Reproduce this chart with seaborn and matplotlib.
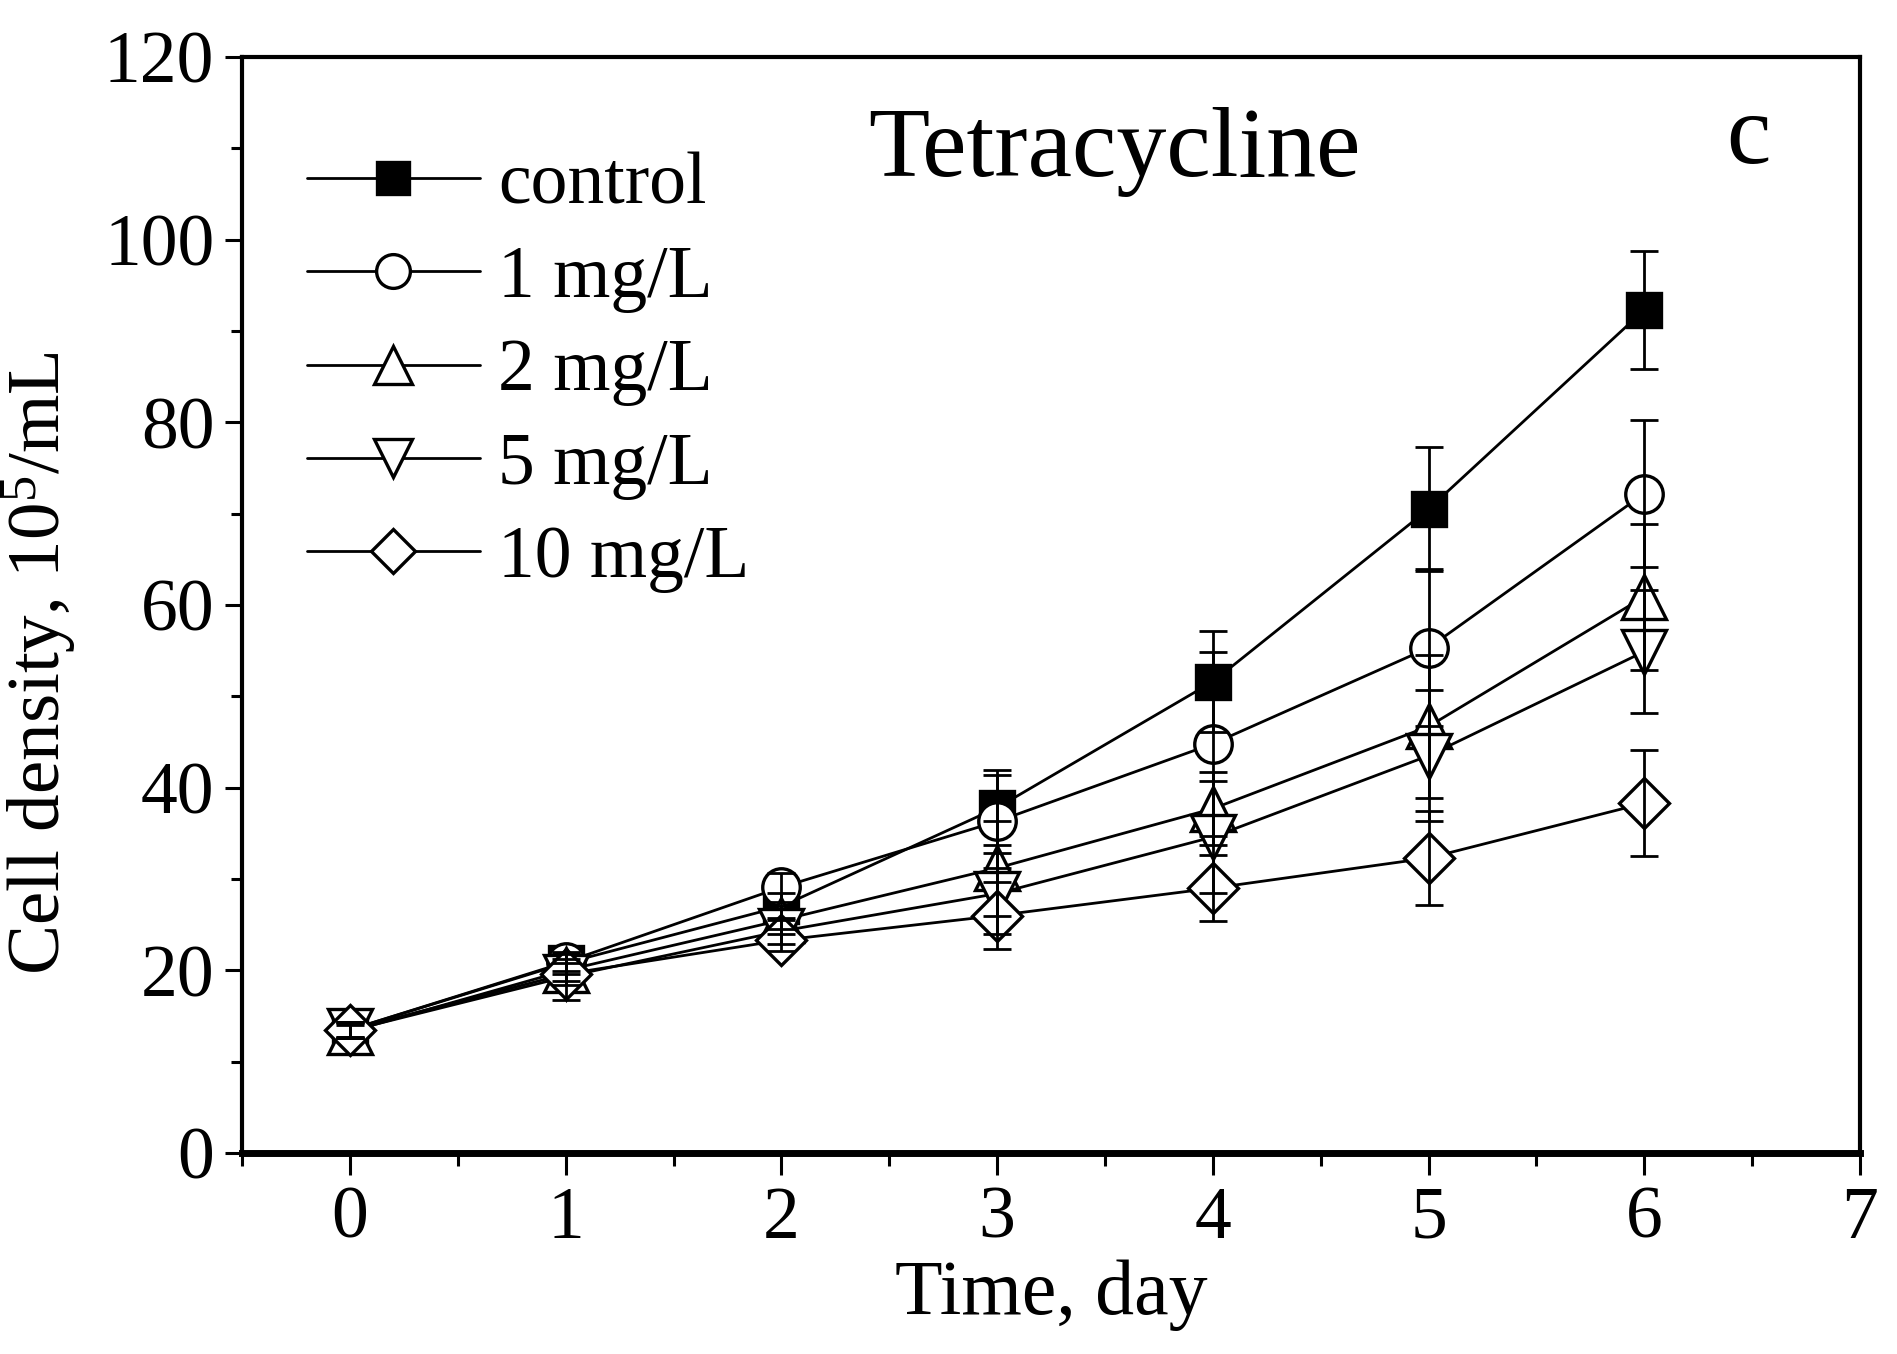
import matplotlib
matplotlib.use("Agg")
import matplotlib.pyplot as plt
import seaborn as sns

# --- data (cell density, 10^5/mL) ---
days = [0, 1, 2, 3, 4, 5, 6]

control = [13.5, 20.8, 27.0, 37.8, 51.6, 70.5, 92.3]
control_sd = [0.9, 1.2, 1.5, 4.1, 5.5, 6.8, 6.5]

mg1 = [13.5, 20.9, 29.1, 36.3, 44.8, 55.3, 72.2]
mg1_sd = [0.8, 1.0, 1.6, 5.1, 10.1, 8.6, 8.0]

mg2 = [13.3, 20.0, 25.5, 31.2, 37.7, 46.7, 60.9]
mg2_sd = [0.7, 1.2, 1.5, 5.2, 4.0, 7.8, 8.0]

mg5 = [13.4, 19.3, 24.3, 28.4, 34.6, 43.5, 54.9]
mg5_sd = [0.8, 2.5, 1.4, 4.4, 6.1, 7.2, 6.7]

mg10 = [13.5, 19.6, 23.3, 26.0, 29.0, 32.3, 38.3]
mg10_sd = [0.8, 1.2, 1.2, 3.7, 3.6, 5.1, 5.8]

labels = ["control", "1 mg/L", "2 mg/L", "5 mg/L", "10 mg/L"]

sns.set_style("ticks")
plt.rcParams["font.family"] = ["Liberation Serif", "DejaVu Serif"]
plt.rcParams["mathtext.fontset"] = "custom"
plt.rcParams["mathtext.rm"] = "Liberation Serif"
plt.rcParams["mathtext.it"] = "Liberation Serif:italic"
for key in ["text.color", "axes.labelcolor", "xtick.color", "ytick.color",
            "axes.edgecolor"]:
    plt.rcParams[key] = "black"

fig, ax = plt.subplots(figsize=(18.97, 13.54), dpi=100)
fig.subplots_adjust(left=0.1276, right=0.9805, bottom=0.1484, top=0.958)

series = [
    (control, control_sd, "s", 25, "black"),
    (mg1, mg1_sd, "o", 27, "white"),
    (mg2, mg2_sd, "^", 31, "white"),
    (mg5, mg5_sd, "v", 31, "white"),
    (mg10, mg10_sd, "D", 25, "white"),
]

for i, (vals, sd, mk, ms, fc) in enumerate(series):
    sns.lineplot(x=days, y=vals, ax=ax, color="black", linewidth=2.0,
                 marker=mk, markersize=ms, markerfacecolor=fc,
                 markeredgecolor="black", markeredgewidth=2.4,
                 errorbar=None, label=labels[i], zorder=3 + i)
    ax.errorbar(days, vals, yerr=sd, fmt="none", ecolor="black",
                elinewidth=2.0, capsize=10, capthick=2.0, zorder=10)

ax.set_xlim(-0.5, 7)
ax.set_ylim(0, 120)
ax.set_xticks(range(0, 8))
ax.set_xticks([x + 0.5 for x in range(-1, 7)], minor=True)
ax.set_yticks(range(0, 121, 20))
ax.set_yticks(range(10, 120, 20), minor=True)

ax.tick_params(axis="both", which="major", direction="out", labelsize=53,
               width=2.2, color="black", labelcolor="black")
ax.tick_params(axis="x", which="major", length=16, pad=8)
ax.tick_params(axis="y", which="major", length=12, pad=8)
ax.tick_params(axis="x", which="minor", direction="out", length=9, width=2.2)
ax.tick_params(axis="y", which="minor", direction="out", length=8, width=2.2)

for side in ["left", "top", "right"]:
    ax.spines[side].set_linewidth(3.0)
ax.spines["bottom"].set_linewidth(5.0)

ax.set_xlabel("Time, day", fontsize=56, labelpad=4)
ax.set_ylabel(r"Cell density, 10$^{\mathrm{5}}$/mL", fontsize=54)
ax.yaxis.set_label_coords(-0.1007, 0.447)

ax.text(0.539, 0.913, "Tetracycline", transform=ax.transAxes,
        ha="center", va="center", fontsize=72)
ax.text(0.931, 0.925, "c", transform=ax.transAxes,
        ha="center", va="center", fontsize=72)

ax.legend(loc="upper left", bbox_to_anchor=(0.040, 0.913), frameon=False,
          fontsize=53, handlelength=2.35, handletextpad=0.25,
          labelspacing=0.35, borderpad=0, borderaxespad=0,
          markerscale=0.9, numpoints=1)

fig.savefig("out.png", dpi=100)
